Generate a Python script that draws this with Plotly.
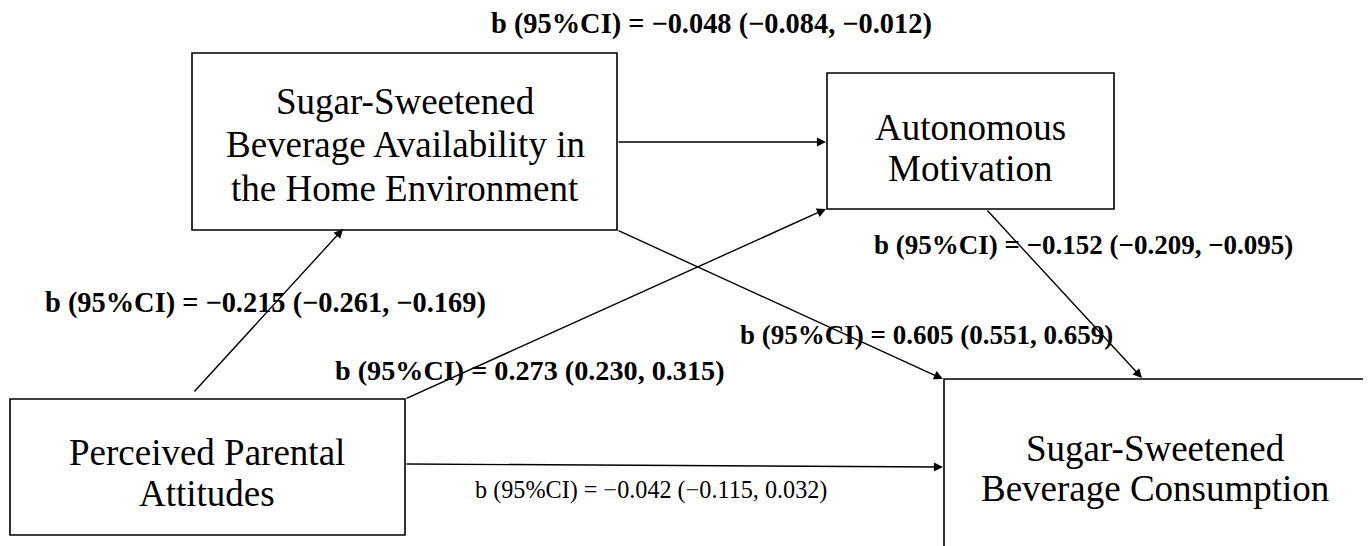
import plotly.graph_objects as go

# ---- data ----
node_keys = ["A", "B", "C", "D"]
node_lines = [
    ["Sugar-Sweetened", "Beverage Availability in", "the Home Environment"],
    ["Autonomous", "Motivation"],
    ["Perceived Parental", "Attitudes"],
    ["Sugar-Sweetened", "Beverage Consumption"],
]
paths = ["A->B", "B->D", "C->A", "A->D", "C->B", "C->D"]
b_vals = [-0.048, -0.152, -0.215, 0.605, 0.273, -0.042]
ci_low = [-0.084, -0.209, -0.261, 0.551, 0.230, -0.115]
ci_high = [-0.012, -0.095, -0.169, 0.659, 0.315, 0.032]
bold_flags = [True, True, True, True, True, False]

# ---- layout geometry (reference pixels) ----
W, H = 1371, 546
OFF = 8  # page body margin in the browser
boxes = {  # x0, y0, x1, y1
    "A": (192, 53, 617, 230),
    "B": (827, 73, 1114, 209),
    "C": (10, 399, 405, 535),
    "D": (944, 379, 1366, 575),
}
text_pos = {  # x centre, y of first line centre, line step
    "A": (405, 101, 43.5),
    "B": (970, 127, 41),
    "C": (207, 452, 41),
    "D": (1155, 448, 40),
}
arrows = {  # (x_start, y_start, x_end, y_end)
    "C->A": (193, 393, 343, 229),
    "A->B": (617, 142, 826, 142),
    "C->B": (405, 399, 826, 209),
    "A->D": (617, 230, 943, 379),
    "B->D": (986, 209, 1142, 378),
    "C->D": (405, 464, 943, 467),
}
label_style = {  # x, y, xanchor, font size
    "A->B": (489, 24, "left", 28.4),
    "B->D": (872, 245, "left", 27),
    "C->A": (43, 303, "left", 28.4),
    "A->D": (738, 335, "left", 27),
    "C->B": (333, 370, "left", 28.2),
    "C->D": (473, 490, "left", 24.2),
}

FONT = "Liberation Serif, Times New Roman, serif"


def fmt(v):
    s = f"{abs(v):.3f}"
    return ("\u2212" + s) if v < 0 else s


fig = go.Figure()
fig.add_trace(go.Scatter(x=[OFF, W + OFF], y=[OFF, H + OFF], mode="markers",
                         marker=dict(opacity=0), hoverinfo="skip", showlegend=False))

for key, (x0, y0, x1, y1) in boxes.items():
    fig.add_shape(type="rect", x0=x0, y0=y0, x1=x1, y1=y1, xref="x", yref="y",
                  line=dict(color="black", width=1.6), fillcolor="white", layer="below")

for key, lines in zip(node_keys, node_lines):
    tx, ty, step = text_pos[key]
    for i, line in enumerate(lines):
        fig.add_annotation(x=tx, y=ty + i * step, xref="x", yref="y", text=line,
                           showarrow=False, xanchor="center", yanchor="middle",
                           font=dict(family=FONT, size=37, color="black"))

for p in paths:
    xs, ys, xe, ye = arrows[p]
    fig.add_annotation(x=xe, y=ye, ax=xs, ay=ys, xref="x", yref="y", axref="x", ayref="y",
                       text="", showarrow=True, arrowhead=2, arrowsize=1.3,
                       arrowwidth=1.4, arrowcolor="black", standoff=0, startstandoff=0)

for p, b, lo, hi, bold in zip(paths, b_vals, ci_low, ci_high, bold_flags):
    txt = f"b (95%CI) = {fmt(b)} ({fmt(lo)}, {fmt(hi)})"
    if bold:
        txt = f"<b>{txt}</b>"
    lx, ly, anchor, fs = label_style[p]
    fig.add_annotation(x=lx, y=ly, xref="x", yref="y", text=txt, showarrow=False,
                       xanchor=anchor, yanchor="middle",
                       font=dict(family=FONT, size=fs, color="black"))

fig.update_xaxes(range=[OFF, W + OFF], visible=False, fixedrange=True)
fig.update_yaxes(range=[H + OFF, OFF], visible=False, fixedrange=True)
fig.update_layout(width=W, height=H, margin=dict(l=0, r=0, t=0, b=0),
                  plot_bgcolor="white", paper_bgcolor="white", showlegend=False)

fig.write_html("out.html")
